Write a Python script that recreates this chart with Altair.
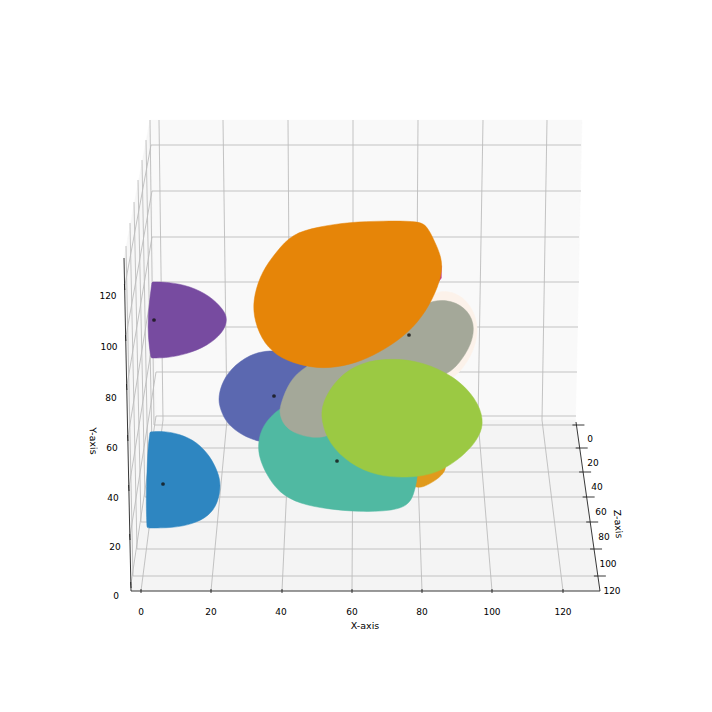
import altair as alt
import pandas as pd

FONT = "DejaVu Sans"

# Panes, outlines (picture coordinates of the projected 3D box)
back_pane = [(150, 120), (582, 120), (575.5, 420), (156.5, 420)]
floor_pane = [(156.5, 420), (575.5, 420), (600, 591), (131, 591)]
left_pane = [(150, 120), (156.5, 420), (131, 591), (124, 258)]

# Tick values
x_ticks = [0, 20, 40, 60, 80, 100, 120]
y_ticks = [0, 20, 40, 60, 80, 100, 120]
z_ticks = [0, 20, 40, 60, 80, 100, 120]

# x grid: top of back wall, seam, front of floor
xg_top = [159, 223, 288, 353, 418, 483, 547]
xg_seam = [163, 227, 290, 353, 416, 478, 542]
xg_base = [141, 211, 282, 352, 422, 492, 563]

# y grid: on back wall and on front edge of left wall
yg_back = [416, 372, 327, 282, 237, 191, 145]
yg_back_l = [156, 156, 155, 153, 152, 152, 151]
yg_back_r = [576, 577, 578, 579, 579, 581, 581]
yg_axis = [585, 537, 488, 438, 387, 338, 287]

# z grid: on floor and on top edge of left wall
zg_floor = [425, 448, 472, 497, 522, 549, 576]
zg_floor_l = [154, 152, 148, 145, 141, 137, 133]
zg_tip_x = [150, 146, 142, 138, 134, 130, 126]
zg_tip_y = [120, 140, 160, 180, 202, 223, 246]

# Tick label positions
x_label_x = [141, 211, 281, 352, 422, 492, 563]
y_label_x = [116, 115, 113, 112, 111, 109, 108]
y_label_y = [596, 547, 498, 448, 398, 347, 296]
z_label_x = [590, 593, 597, 601, 604, 608, 612]
z_label_y = [439, 463, 487, 512, 537, 564, 591]

# Blob outlines (a repeated point keeps a corner tight)
halo = [(430, 290), (454, 291), (470, 303), (479, 325), (475, 349), (463, 369), (447, 384), (420, 370), (410, 330)]
pink = [(438, 262), (441.3, 266), (441.3, 278), (437, 284)]
purple = [(152, 282), (152, 282), (168, 282), (190, 286), (210, 296), (223, 309), (228, 319), (223, 333), (207, 346), (187, 354), (167, 358), (151, 358), (151, 358), (148, 337), (148, 317), (150, 297)]
blue = [(150, 432), (150, 432), (163, 431), (180, 434), (197, 442), (210, 456), (218, 472), (221, 485), (218, 503), (209, 516), (193, 524), (173, 528), (147, 528), (147, 528), (146, 503), (147, 470), (148, 447)]
slate = [(218, 400), (221, 385), (230, 369), (250, 354), (270, 350), (290, 352), (312, 367), (320, 400), (300, 425), (275, 444), (260, 442), (243, 436), (227, 424), (221, 411)]
amber = [(414, 491), (430, 484), (442, 476), (449, 464), (430, 450), (400, 470)]
teal = [(258, 443), (262, 426), (279, 407), (310, 395), (350, 410), (400, 440), (418, 468), (417, 480), (414, 494), (408, 506), (390, 511), (360, 512), (327, 509), (300, 504), (279, 493), (266, 474), (259, 457)]
grey = [(447, 299), (465, 307), (475, 323), (472, 344), (459, 364), (447, 375), (400, 395), (350, 425), (327, 437), (313, 438), (296, 434), (284, 426), (279, 413), (281, 403), (289, 382), (304, 366), (350, 345), (400, 320), (425, 302)]
orange = [(292, 234), (317, 227), (350, 222), (383, 221), (419, 221), (427, 226), (434, 240), (442, 258), (442, 275), (433, 299), (418, 323), (398, 341), (373, 356), (350, 365), (323, 369), (299, 365), (276, 356), (261, 339), (253, 315), (254, 295), (262, 271), (277, 251)]
green = [(393, 358), (360, 362), (336, 379), (322, 403), (321, 420), (329, 444), (350, 464), (377, 476), (407, 478), (438, 474), (466, 454), (480, 436), (484, 420), (476, 398), (454, 376), (423, 362)]

dots_x = [154, 163, 274, 337, 409]
dots_y = [320, 484, 396, 461, 335]

SX = alt.Scale(domain=[8, 704], nice=False, zero=False)
SY = alt.Scale(domain=[704, 8], nice=False, zero=False)
X = alt.X("x:Q", scale=SX, axis=None)
Y = alt.Y("y:Q", scale=SY, axis=None)


def shape(pts, colour, interp="linear-closed", **kw):
    df = pd.DataFrame(pts, columns=["x", "y"])
    df["i"] = range(len(df))
    return alt.Chart(df).mark_line(interpolate=interp, fill=colour, stroke=colour, strokeWidth=0.5, clip=False, **kw).encode(
        x=X, y=Y, order="i:Q")


def segments(rows, colour, width):
    df = pd.DataFrame(rows, columns=["x", "y", "x2", "y2"])
    return alt.Chart(df).mark_rule(color=colour, strokeWidth=width).encode(
        x=X, y=Y, x2="x2:Q", y2="y2:Q")


def labels(xs, ys, texts, size=9, **kw):
    df = pd.DataFrame({"x": xs, "y": ys, "t": texts})
    return alt.Chart(df).mark_text(font=FONT, fontSize=size, color="black", align="center", baseline="middle", **kw).encode(
        x=X, y=Y, text="t:N")


grid = []
for a, b, c in zip(xg_top, xg_seam, xg_base):
    grid.append((a, 120, b, 420))
    grid.append((b, 420, c, 591))
for l, r, yb, ya in zip(yg_back_l, yg_back_r, yg_back, yg_axis):
    grid.append((l, yb, r, yb))
    grid.append((l, yb, 124 + 7 * (ya - 258) / 333, ya))
for y, l, tx, ty in zip(zg_floor, zg_floor_l, zg_tip_x, zg_tip_y):
    grid.append((l, y, 576 + 24 * (y - 422) / 169, y))
    grid.append((l, y, tx, ty))

axis_lines = [(131, 591, 600, 591), (576, 422, 600, 591), (124, 258, 131, 591)]
for t in xg_base:
    axis_lines.append((t, 589, t, 593))
for y in zg_floor:
    ax = 576 + 24 * (y - 422) / 169
    axis_lines.append((ax - 4, y, ax + 8, y))
for y in yg_axis:
    ax = 124 + 7 * (y - 258) / 333
    axis_lines.append((ax - 0.2, y - 3, ax + 0.2, y + 3))

dots = alt.Chart(pd.DataFrame({"x": dots_x, "y": dots_y})).mark_circle(size=14, color="#111111", opacity=0.8).encode(x=X, y=Y)

axis_titles = [
    labels([365], [626], ["X-axis"], size=9.5),
    labels([93], [441], ["Y-axis"], size=9.5, angle=88),
    labels([618], [524], ["Z-axis"], size=9.5, angle=85),
]

chart = alt.layer(
    shape(back_pane, "#f9f9f9"),
    shape(floor_pane, "#f4f4f4"),
    shape(left_pane, "#f7f7f7"),
    segments(grid, "#bcbcbc", 0.9),
    shape(halo, "#fcf2ea", "basis-closed"),
    shape(pink, "#c0308a"),
    shape(purple, "#774ba0", "basis-closed"),
    shape(blue, "#2e86c1", "basis-closed"),
    shape(slate, "#5b68b0", "basis-closed"),
    shape(amber, "#e09a1c", "basis-closed"),
    shape(teal, "#50b9a2", "basis-closed"),
    shape(grey, "#a4a899", "basis-closed"),
    shape(orange, "#e68508", "basis-closed"),
    shape(green, "#9bc943", "basis-closed"),
    dots,
    segments(axis_lines, "#222222", 0.9),
    labels(x_label_x, [612] * 7, [str(v) for v in x_ticks]),
    labels(y_label_x, y_label_y, [str(v) for v in y_ticks]),
    labels(z_label_x, z_label_y, [str(v) for v in z_ticks]),
    *axis_titles,
).properties(width=696, height=696, padding=0, autosize=alt.AutoSizeParams(type="none")).configure_view(stroke=None)

chart.save("out.html", embed_options={"renderer": "svg", "actions": False})
